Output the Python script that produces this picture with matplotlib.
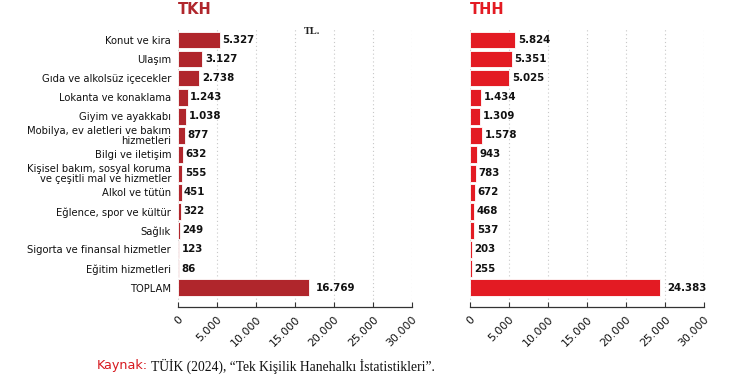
import matplotlib
matplotlib.use("Agg")
import matplotlib.pyplot as plt

categories = [
    "Konut ve kira", "Ulaşım", "Gıda ve alkolsüz içecekler", "Lokanta ve konaklama",
    "Giyim ve ayakkabı", "Mobilya, ev aletleri ve bakım\nhizmetleri", "Bilgi ve iletişim",
    "Kişisel bakım, sosyal koruma\nve çeşitli mal ve hizmetler", "Alkol ve tütün",
    "Eğlence, spor ve kültür", "Sağlık", "Sigorta ve finansal hizmetler",
    "Eğitim hizmetleri", "TOPLAM",
]
tkh = [5327, 3127, 2738, 1243, 1038, 877, 632, 555, 451, 322, 249, 123, 86, 16769]
thh = [5824, 5351, 5025, 1434, 1309, 1578, 943, 783, 672, 468, 537, 203, 255, 24383]
xticks = [0, 5000, 10000, 15000, 20000, 25000, 30000]
xticklabels = ["0", "5.000", "10.000", "15.000", "20.000", "25.000", "30.000"]


def fmt(v):
    return f"{v:,}".replace(",", ".")


SANS = ["DejaVu Sans"]
fig = plt.figure(figsize=(7.44, 3.87), dpi=100)

panels = [
    (178 / 744, tkh, "#B0262C", "TKH", True),
    (470 / 744, thh, "#E31B23", "THH", False),
]
bottom = (387 - 307) / 387
height = (307 - 28) / 387
width = 234 / 744
for left, vals, color, title, show_labels in panels:
    ax = fig.add_axes([left, bottom, width, height])
    y = list(range(len(categories)))
    ax.barh(y, vals, height=0.88, color=color, edgecolor="white", linewidth=0.6, zorder=3)
    ax.set_xlim(0, 30000)
    ax.set_ylim(14.02, -0.63)
    ax.set_xticks(xticks)
    ax.set_xticklabels(xticklabels, rotation=45, ha="right", va="top",
                       rotation_mode="anchor", family=SANS, fontsize=7.9,
                       color="#111111")
    ax.tick_params(axis="x", direction="in", length=3.5, width=0.8, color="#333333", pad=5)
    ax.set_yticks(y)
    if show_labels:
        ax.set_yticklabels(categories, family=SANS, fontsize=7.2, color="#111111")
        for t in ax.get_yticklabels():
            t.set_linespacing(0.95)
        ax.tick_params(axis="y", length=0, pad=5)
    else:
        ax.set_yticklabels([])
        ax.tick_params(axis="y", length=0)
    for s in ["top", "right", "left"]:
        ax.spines[s].set_visible(False)
    ax.spines["bottom"].set_color("#333333")
    ax.spines["bottom"].set_linewidth(0.9)
    ax.grid(axis="x", linestyle=(0, (1, 2.5)), color="#c8c8c8", linewidth=0.8, zorder=0)
    ax.set_axisbelow(True)
    for i, v in enumerate(vals):
        off = 5 if i == len(vals) - 1 else 1.8
        ax.annotate(fmt(v), (v, i), xytext=(off, 0), textcoords="offset points",
                    ha="left", va="center", family=SANS, fontsize=7.4,
                    fontweight="bold", color="#111111")
    fig.text(left, (387 - 9) / 387, title, ha="left", va="center", family=SANS,
             fontsize=10.5, fontweight="bold", color=color)

fig.text(312 / 744, (387 - 32) / 387, "TL.", ha="center", va="center",
         family=["Liberation Serif", "DejaVu Serif"], fontsize=7.5, fontweight="bold",
         color="#222222")

t1 = fig.text(97 / 744, (387 - 366) / 387, "Kaynak:", ha="left", va="center",
              family=SANS, fontsize=9.2, color="#D7191F")
fig.canvas.draw()
bb = t1.get_window_extent()
x2 = (bb.x1 + 3) / fig.bbox.width
fig.text(x2, (387 - 366) / 387,
         "TÜİK (2024), \u201cTek Kişilik Hanehalkı İstatistikleri\u201d.",
         ha="left", va="center", family=["Liberation Serif", "DejaVu Serif"],
         fontsize=9.8, color="#111111")

fig.savefig("out.png", dpi=100)
